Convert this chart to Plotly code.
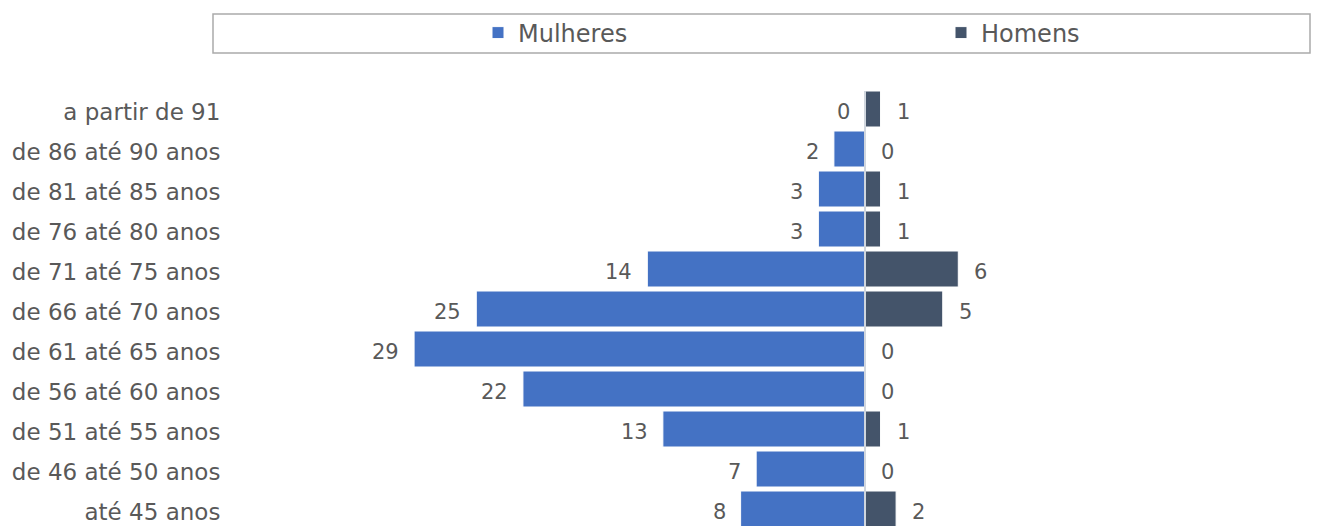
import plotly.graph_objects as go

categories = ["até 45 anos", "de 46 até 50 anos", "de 51 até 55 anos", "de 56 até 60 anos",
              "de 61 até 65 anos", "de 66 até 70 anos", "de 71 até 75 anos", "de 76 até 80 anos",
              "de 81 até 85 anos", "de 86 até 90 anos", "a partir de 91"]
mulheres = [8, 7, 13, 22, 29, 25, 14, 3, 3, 2, 0]
homens = [2, 0, 1, 0, 0, 5, 6, 1, 1, 0, 1]

FONT = "Century Gothic, DejaVu Sans, sans-serif"
TXT = "#595959"

W, H = 1328, 526
L, R, T, B = 222, 26, 81, 0
PW, PH = W - L - R, H - T - B

fig = go.Figure()
fig.add_trace(go.Bar(
    y=categories, x=[-v for v in mulheres], orientation="h", name="Mulheres",
    marker=dict(color="#4472C4", line=dict(color="white", width=1)),
    hoverinfo="skip"))
fig.add_trace(go.Bar(
    y=categories, x=homens, orientation="h", name="Homens",
    marker=dict(color="#44546A", line=dict(color="white", width=1)),
    hoverinfo="skip"))

annotations = []
for c, w, m in zip(categories, mulheres, homens):
    annotations.append(dict(x=-w, y=c, xref="x", yref="y", text=str(w), showarrow=False,
                            xanchor="right", xshift=-13, yshift=-3,
                            font=dict(family=FONT, size=21, color=TXT)))
    annotations.append(dict(x=m, y=c, xref="x", yref="y", text=str(m), showarrow=False,
                            xanchor="left", xshift=14, yshift=-3,
                            font=dict(family=FONT, size=21, color=TXT)))

fig.update_layout(
    width=W, height=H,
    margin=dict(l=L, r=R, t=T, b=B, autoexpand=False),
    paper_bgcolor="white", plot_bgcolor="white",
    barmode="relative", bargap=0.1,
    font=dict(family=FONT, size=22, color=TXT),
    showlegend=True,
    legend=dict(orientation="h", xref="container", x=470 / W, xanchor="left",
                yref="container", y=1 - 25 / H, yanchor="middle",
                entrywidth=418, entrywidthmode="pixels",
                font=dict(family=FONT, size=24, color=TXT),
                bgcolor="rgba(0,0,0,0)", traceorder="normal"),
    xaxis=dict(range=[-40.84, 28.62], visible=False, showgrid=False, zeroline=False, fixedrange=True),
    yaxis=dict(categoryorder="array", categoryarray=categories, range=[-0.625, 10.5],
               showgrid=False, zeroline=False, showline=False, ticks="outside",
               ticklen=4, tickcolor="rgba(0,0,0,0)", ticklabelshift=3,
               tickfont=dict(family=FONT, size=23, color=TXT)),
    annotations=annotations,
    shapes=[
        dict(type="line", xref="x", yref="paper", x0=0, x1=0, y0=0, y1=(H - 83) / PH,
             line=dict(color="#D0D6DE", width=2), layer="above"),
        dict(type="rect", xref="paper", yref="paper",
             x0=(205 - L) / PW, x1=1.0, y0=(H - 45) / PH, y1=(H - 6) / PH,
             line=dict(color="#ABABAB", width=1.5), fillcolor="rgba(0,0,0,0)"),
    ],
)

fig.write_html("out.html")
